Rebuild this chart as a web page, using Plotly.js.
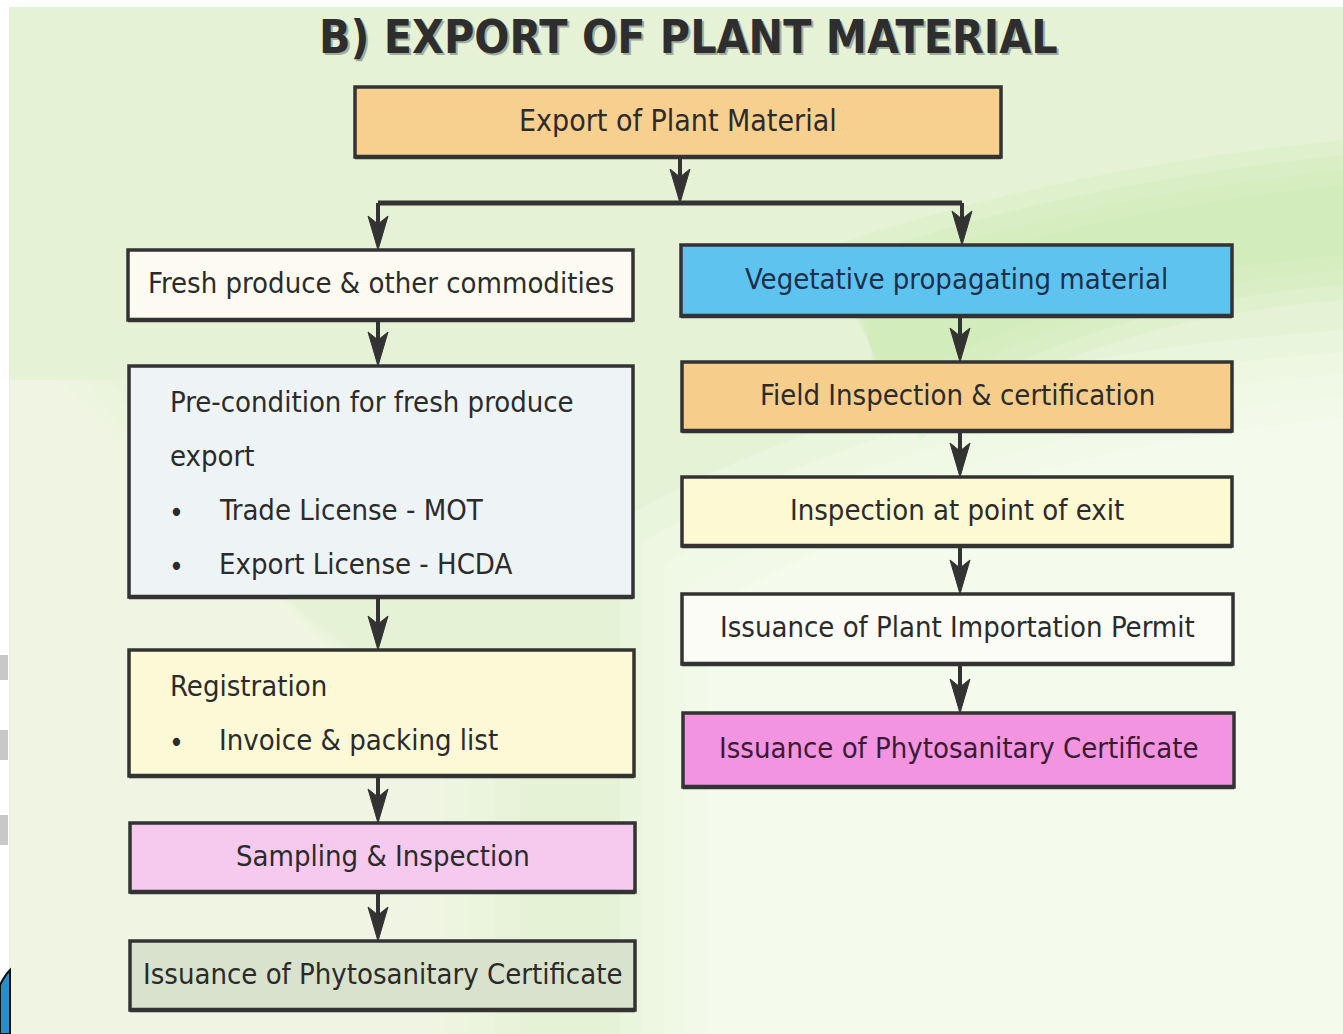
<!DOCTYPE html>
<html>
<head>
<meta charset="utf-8">
<script src="https://cdn.plot.ly/plotly-3.0.1.min.js"></script>
<style>html,body{margin:0;padding:0;background:#fff;}#chart{width:1343px;height:1034px;}</style>
</head>
<body>
<div id="chart"></div>
<script>
// ---- content (data) ----
const chartTitle = "B) EXPORT OF PLANT MATERIAL";
const rootLabel = "Export of Plant Material";
const leftLabels = [
  ["Fresh produce & other commodities"],
  ["Pre-condition for fresh produce", "export", "• Trade License - MOT", "• Export License - HCDA"],
  ["Registration", "• Invoice & packing list"],
  ["Sampling & Inspection"],
  ["Issuance of Phytosanitary Certificate"]
];
const rightLabels = [
  ["Vegetative propagating material"],
  ["Field Inspection & certification"],
  ["Inspection at point of exit"],
  ["Issuance of Plant Importation Permit"],
  ["Issuance of Phytosanitary Certificate"]
];

// ---- layout geometry (pixels in axis units) ----
const rootBox = {x0:355, x1:1001, y0:87, y1:157, fill:"#f7cf8f"};
const leftBoxes = [
  {x0:128, x1:633, y0:250, y1:320, fill:"#fdfbf1"},
  {x0:129, x1:633, y0:366, y1:597, fill:"#eef3f5", align:"left"},
  {x0:129, x1:634, y0:650, y1:776, fill:"#fcfad6", align:"left"},
  {x0:130, x1:635, y0:823, y1:892, fill:"#f6c9ee"},
  {x0:130, x1:635, y0:941, y1:1010, fill:"#d9e2cc"}
];
const rightBoxes = [
  {x0:681, x1:1232, y0:245, y1:316, fill:"#5ec3ee", color:"#1d2f4a"},
  {x0:682, x1:1232, y0:362, y1:431, fill:"#f6cd8b"},
  {x0:682, x1:1232, y0:477, y1:546, fill:"#fcf9d3"},
  {x0:682, x1:1233, y0:594, y1:664, fill:"#fafcf5"},
  {x0:683, x1:1234, y0:713, y1:787, fill:"#f294df", color:"#3a1a35"}
];
const leftX = 378, rightX = 960, branchY = 203, rootX = 680;

const FONT = "DejaVu Sans Condensed, Liberation Sans Narrow, sans-serif";
const INK = "#333333";
const TXT = 29;

const shapes = [];
const annotations = [];

// background decoration (soft layered tints)
shapes.push({type:"rect", xref:"x", yref:"y", x0:0, x1:1343, y0:0, y1:1034, fillcolor:"#e5f2d6", line:{width:0}, layer:"below"});
for (let k=0; k<5; k++){
  const d = k*22;
  shapes.push({type:"path", xref:"x", yref:"y",
    path:"M "+(620+d)+" "+(520+d)+" Q "+(900+d)+" "+(360+d)+" 1343 "+(330+d)+" L 1343 1034 L "+(620+d)+" 1034 Z",
    fillcolor:"rgba(252,254,248,0.22)", line:{width:0}, layer:"below"});
}
for (let k=0; k<4; k++){
  const d = k*25;
  shapes.push({type:"path", xref:"x", yref:"y",
    path:"M "+(60+d)+" 380 Q 250 600 "+(520-d)+" 760 L "+(520-d)+" 1034 L 10 1034 L 10 380 Z",
    fillcolor:"rgba(250,252,238,0.18)", line:{width:0}, layer:"below"});
}
for (let k=0; k<4; k++){
  const d = k*15;
  shapes.push({type:"path", xref:"x", yref:"y",
    path:"M "+(820+d)+" "+(250+d)+" Q 1050 "+(170+d)+" 1343 "+(140+d)+" L 1343 "+(300-d)+" Q 1080 "+(320-d)+" "+(920-d)+" "+(440-d)+" Z",
    fillcolor:"rgba(200,232,165,0.18)", line:{width:0}, layer:"below"});
}
shapes.push({type:"rect", xref:"x", yref:"y", x0:0, x1:1343, y0:0, y1:7, fillcolor:"#ffffff", line:{width:0}, layer:"below"});
shapes.push({type:"rect", xref:"x", yref:"y", x0:0, x1:9, y0:0, y1:1034, fillcolor:"#ffffff", line:{width:0}, layer:"below"});
[[655,680],[730,760],[815,845]].forEach(function(g){
  shapes.push({type:"rect", xref:"x", yref:"y", x0:0, x1:8, y0:g[0], y1:g[1], fillcolor:"#c8c8c8", line:{width:0}, layer:"below"});
});
shapes.push({type:"path", xref:"x", yref:"y", path:"M 0 985 Q 5 975 10 970 L 10 1034 L 0 1034 Z", fillcolor:"#2a8fc9", line:{color:"#111", width:2}, layer:"below"});

function addBox(b){
  shapes.push({type:"rect", xref:"x", yref:"y", x0:b.x0, x1:b.x1, y0:b.y0, y1:b.y1,
    fillcolor:b.fill, line:{color:INK, width:3.5}});
  shapes.push({type:"line", xref:"x", yref:"y", x0:b.x0, x1:b.x1, y0:b.y1, y1:b.y1, line:{color:INK, width:4.5}});
}
function addCenteredText(b, text, size){
  annotations.push({xref:"x", yref:"y", x:(b.x0+b.x1)/2, y:(b.y0+b.y1)/2 - 2, text:text, showarrow:false,
    xanchor:"center", yanchor:"middle", font:{family:FONT, size:size||TXT, color:b.color||"#2b2b2b"}});
}
function addLeftText(b, lines){
  const lineH = 54;
  const startY = b.y0 + 36;
  lines.forEach(function(t, i){
    const y = startY + i*lineH;
    if (t.indexOf("• ")===0){
      annotations.push({xref:"x", yref:"y", x:176, y:y+2, text:"•", showarrow:false, xanchor:"center", yanchor:"middle",
        font:{family:FONT, size:28, color:"#2b2b2b"}});
      annotations.push({xref:"x", yref:"y", x:217, y:y, text:t.slice(2), showarrow:false, xanchor:"left", yanchor:"middle",
        font:{family:FONT, size:TXT, color:"#2b2b2b"}});
    } else {
      annotations.push({xref:"x", yref:"y", x:168, y:y, text:t, showarrow:false, xanchor:"left", yanchor:"middle",
        font:{family:FONT, size:TXT, color:"#2b2b2b"}});
    }
  });
}
function addArrow(x, y0, y1){
  shapes.push({type:"line", xref:"x", yref:"y", x0:x, x1:x, y0:y0, y1:y1-10, line:{color:INK, width:4}});
  shapes.push({type:"path", xref:"x", yref:"y",
    path:"M "+x+" "+y1+" L "+(x-10)+" "+(y1-34)+" L "+x+" "+(y1-26)+" L "+(x+10)+" "+(y1-34)+" Z",
    fillcolor:INK, line:{color:INK, width:1}});
}

// root
addBox(rootBox);
addCenteredText(rootBox, rootLabel, 30);

// branch connectors
addArrow(rootX, rootBox.y1, branchY);
shapes.push({type:"line", xref:"x", yref:"y", x0:leftX, x1:rightX+2, y0:branchY, y1:branchY, line:{color:INK, width:5}});
addArrow(leftX, branchY, leftBoxes[0].y0);
addArrow(rightX+2, branchY, rightBoxes[0].y0);

// columns
leftBoxes.forEach(function(b, i){
  addBox(b);
  if (b.align==="left") addLeftText(b, leftLabels[i]); else addCenteredText(b, leftLabels[i].join("<br>"));
  if (i < leftBoxes.length-1) addArrow(leftX, b.y1, leftBoxes[i+1].y0);
});
rightBoxes.forEach(function(b, i){
  addBox(b);
  addCenteredText(b, rightLabels[i].join("<br>"));
  if (i < rightBoxes.length-1) addArrow(rightX, b.y1, rightBoxes[i+1].y0);
});

// title (with soft shadow)
annotations.push({xref:"x", yref:"y", x:690, y:39, text:"<b>"+chartTitle+"</b>", showarrow:false, xanchor:"center", yanchor:"middle",
  font:{family:FONT, size:46, color:"#a3ad9f"}});
annotations.push({xref:"x", yref:"y", x:688, y:37, text:"<b>"+chartTitle+"</b>", showarrow:false, xanchor:"center", yanchor:"middle",
  font:{family:FONT, size:46, color:"#2e2e2e"}});

const layout = {
  width:1343, height:1034,
  margin:{l:0, r:0, t:0, b:0},
  paper_bgcolor:"#e5f2d6", plot_bgcolor:"rgba(0,0,0,0)",
  xaxis:{range:[0,1343], visible:false, fixedrange:true},
  yaxis:{range:[1034,0], visible:false, fixedrange:true},
  showlegend:false,
  shapes:shapes,
  annotations:annotations
};
Plotly.newPlot("chart", [{x:[0], y:[0], mode:"markers", marker:{opacity:0}, hoverinfo:"skip"}], layout, {displayModeBar:false, staticPlot:true});
</script>
</body>
</html>
